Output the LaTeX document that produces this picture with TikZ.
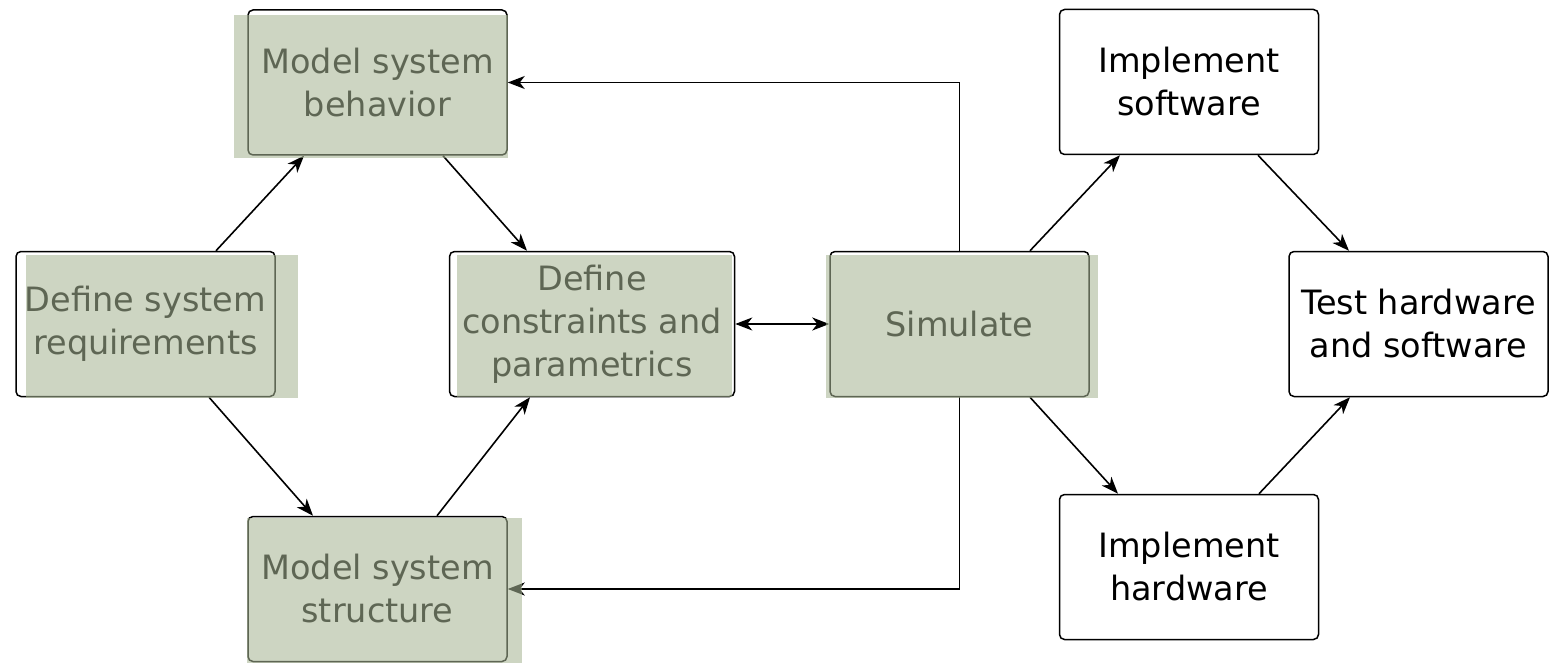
\documentclass[tikz,border=0pt]{standalone}
\usepackage{fontspec}
\setmainfont{DejaVu Sans}
\usetikzlibrary{arrows.meta}
\definecolor{sage}{RGB}{167,181,148}
\begin{document}
\begin{tikzpicture}[x=1pt,y=-1pt,
  box/.style={draw=black, line width=1.5pt, rounded corners=5pt,
    minimum width=259pt, minimum height=145pt, align=center, inner sep=0pt,
    font=\fontsize{33.5}{43}\selectfont, text=black},
  arr/.style={line width=1.6pt, -{Stealth[length=17pt,width=13pt,inset=5pt]}},
  darr/.style={line width=1.6pt, {Stealth[length=17pt,width=13pt,inset=5pt]}-{Stealth[length=17pt,width=13pt,inset=5pt]}},
  tint/.style={fill=sage, fill opacity=0.57}]
\useasboundingbox (0,0) rectangle (1550,663);

% process steps
\node[box] (req)  at (145.5,324) {Define system\\requirements};
\node[box] (mb)   at (377.5,82.5) {Model system\\behavior};
\node[box] (ms)   at (377.5,589) {Model system\\structure};
\node[box, minimum width=285pt] (con) at (592,324) {Define\\constraints and\\parametrics};
\node[box] (sim)  at (959.5,324) {Simulate};
\node[box] (isw)  at (1189,82) {Implement\\software};
\node[box] (ihw)  at (1189,567) {Implement\\hardware};
\node[box] (test) at (1418.5,324) {Test hardware\\and software};

% flow
\draw[arr] ([xshift=70.5pt]req.north) -- ([xshift=-73.5pt]mb.south);
\draw[arr] ([xshift=63.5pt]req.south) -- ([xshift=-64.5pt]ms.north);
\draw[arr] ([xshift=65.5pt]mb.south) -- ([xshift=-65pt]con.north);
\draw[arr] ([xshift=59.5pt]ms.north) -- ([xshift=-62pt]con.south);
\draw[darr] (con.east) -- (sim.west);
\draw[arr] (sim.north) |- (mb.east);
\draw[arr] (sim.south) |- (ms.east);
\draw[arr] ([xshift=70.5pt]sim.north) -- ([xshift=-69pt]isw.south);
\draw[arr] ([xshift=70.5pt]sim.south) -- ([xshift=-71pt]ihw.north);
\draw[arr] ([xshift=69pt]isw.south) -- ([xshift=-69.5pt]test.north);
\draw[arr] ([xshift=70pt]ihw.north) -- ([xshift=-68.5pt]test.south);

% translucent highlight over the modelling steps
\fill[tint] (26,255) rectangle (298,398);
\fill[tint] (234,15) rectangle (508,158);
\fill[tint] (247,518) rectangle (522,663);
\fill[tint] (457,255) rectangle (732,397);
\fill[tint] (826,255) rectangle (1098,398);
\end{tikzpicture}
\end{document}
